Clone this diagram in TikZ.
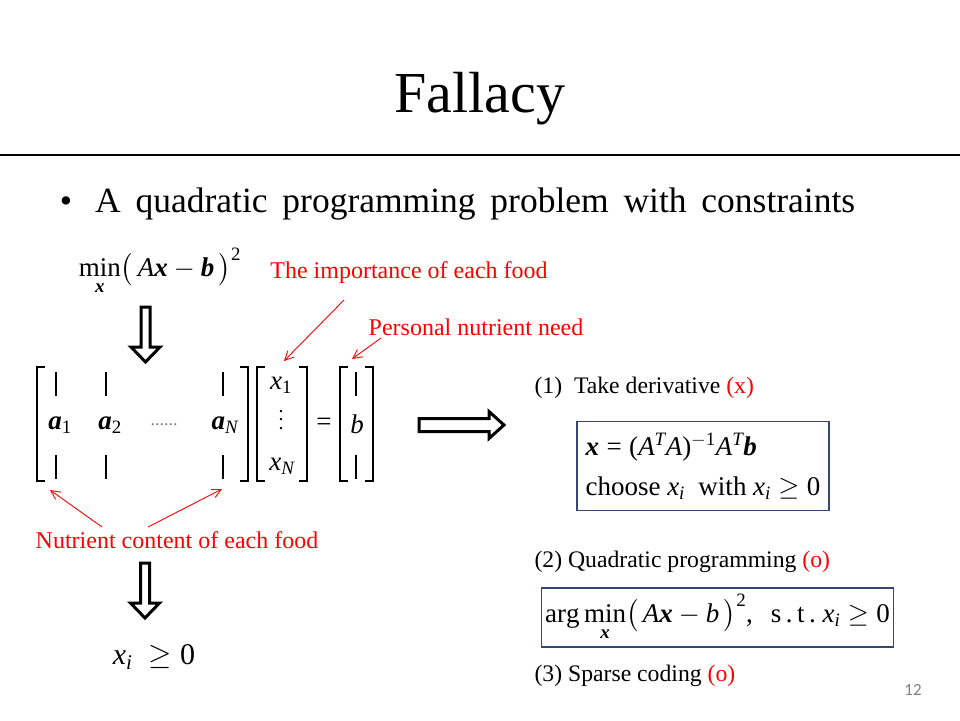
\RequirePackage{fix-cm}
\documentclass[tikz,border=0pt]{standalone}
\usepackage{amsmath}
\usepackage{amssymb}
\usepackage[no-math]{fontspec}
\setmainfont{Liberation Serif}
\newfontfamily\numfont{Carlito}
% Times-like letters and digits in formulas
\DeclareSymbolFont{letters}{TU}{\rmdefault}{m}{it}
\SetSymbolFont{letters}{bold}{TU}{\rmdefault}{b}{it}
\DeclareSymbolFont{operators}{TU}{\rmdefault}{m}{n}
\SetSymbolFont{operators}{bold}{TU}{\rmdefault}{b}{n}
\mathcode`\,="602C
\mathcode`\.="002E
\newcommand{\tallvdots}{\vbox{\baselineskip=8.5pt\lineskiplimit=0pt\hbox{.}\hbox{.}\hbox{.}}}
\usetikzlibrary{arrows.meta}

\tikzset{
	fatdown/.pic={\draw[fat] (-4.5,0) -- (4.5,0) -- (4.5,40) -- (14.5,40) -- (0,55) -- (-14.5,40) -- (-4.5,40) -- cycle;},
	fatright/.pic={\draw[fat] (0,-6.5) -- (70,-6.5) -- (70,-13.5) -- (85,0) -- (70,13.5) -- (70,6.5) -- (0,6.5) -- cycle;},
	lbr/.pic={\draw[brk] (8,0) -- (0,0) -- (0,114) -- (8,114);},
	rbr/.pic={\draw[brk] (-8,0) -- (0,0) -- (0,114) -- (-8,114);},
}

\begin{document}
\begin{tikzpicture}[x=1pt, y=-1pt,
		fat/.style={line width=3pt, miter limit=10, fill=white},
		brk/.style={line width=1.2pt},
		bar/.style={line width=1.2pt},
		note/.style={text=red, font=\fontsize{24}{28}\selectfont},
		item/.style={anchor=west, font=\fontsize{23.7}{28}\selectfont},
		eq/.style={font=\fontsize{27}{32}\selectfont},
		frame/.style={draw={rgb,255:red,52;green,72;blue,112}, line width=1.3pt, align=left},
		point/.style={-{Straight Barb[length=9pt,width=9pt]}, red, line width=0.9pt}]
	\useasboundingbox (0,0) rectangle (960,720);
	% title
	\node[anchor=base, font=\fontsize{58}{60}\selectfont] (title) at (480,112) {Fallacy};
	\draw[line width=2.6pt] (0,155) -- (960,155);
	\node[anchor=base, font=\fontsize{35}{40}\selectfont] (dot) at (66,212) {\textbullet};
	\node[anchor=base west, font=\fontsize{35.5}{40}\selectfont, inner sep=0pt] (head) at (95,212)
		{\makebox[760pt][s]{A quadratic programming problem with constraints}};
	% objective
	\node[eq] (obj) at (160,272) {$\min\limits_{\boldsymbol{x}}\bigl(\,A\boldsymbol{x}-\boldsymbol{b}\,\bigr)^{2}$};
	\pic at (145.5,307) {fatdown};
	% matrix A
	\pic at (37,367) {lbr};
	\pic at (248,367) {rbr};
	\foreach \c in {56,106,223}{
		\draw[bar] (\c,372) -- (\c,396);
		\draw[bar] (\c,455) -- (\c,479);
	}
	\node[eq] (a1) at (60,425) {$\boldsymbol{a}_{1}$};
	\node[eq] (a2) at (110,425) {$\boldsymbol{a}_{2}$};
	\node[text=gray, font=\fontsize{18}{20}\selectfont] (dd) at (164,425) {......};
	\node[eq] (aN) at (225,425) {$\boldsymbol{a}_{N}$};
	% vector x
	\pic at (257,367) {lbr};
	\pic at (307,367) {rbr};
	\node[eq, inner sep=1pt] (x1) at (281,385) {$x_{1}$};
	\node[font=\fontsize{20}{22}\selectfont, inner sep=0pt] (xd) at (281,420) {\tallvdots};
	\node[eq, inner sep=1pt] (xN) at (282,466) {$x_{N}$};
	\node[eq] (eqs) at (324,424) {$=$};
	% vector b
	\pic at (340,367) {lbr};
	\pic at (373,367) {rbr};
	\draw[bar] (356,372) -- (356,396);
	\draw[bar] (356,455) -- (356,479);
	\node[eq] (b) at (357,424) {$b$};
	% labels
	\node[note] (imp) at (409,273) {The importance of each food};
	\node[note] (need) at (476,327) {Personal nutrient need};
	\node[note] (cont) at (177,540) {Nutrient content of each food};
	\coordinate (impA) at (344,300);
	\coordinate (impB) at (284,361);
	\coordinate (needA) at (381,338);
	\coordinate (needB) at (352,359);
	\coordinate (contA) at (102,527);
	\coordinate (contB) at (50,490);
	\coordinate (contC) at (148,527);
	\coordinate (contD) at (222,489);
	\draw[point] (impA) -- (impB);
	\draw[point] (needA) -- (needB);
	\draw[point] (contA) -- (contB);
	\draw[point] (contC) -- (contD);
	% constraint
	\pic at (145,563) {fatdown};
	\node[font=\fontsize{30}{34}\selectfont] (pos) at (154,657) {$x_{i}\ \geq 0$};
	\pic at (419,425) {fatright};
	% methods
	\node[item] (m1) at (531,388) {(1)\ \ Take derivative \textcolor{red}{(x)}};
	\node[frame, eq, minimum width=252pt, minimum height=89pt] (box1) at (703,466)
		{$\boldsymbol{x}=(A^{T}A)^{-1}A^{T}\boldsymbol{b}$\\[8pt]choose $x_{i}$\ \ with $x_{i}\geq 0$};
	\node[item] (m2) at (531,562) {(2) Quadratic programming \textcolor{red}{(o)}};
	\node[frame, eq, minimum width=339pt, minimum height=59pt] (box2) at (717.5,617.5)
		{$\arg\min\limits_{\boldsymbol{x}}\bigl(\,A\boldsymbol{x}-b\,\bigr)^{2},\ \ \mathrm{s\,.\,t\,.}\ x_{i}\geq 0$};
	\node[item] (m3) at (531,676) {(3) Sparse coding \textcolor{red}{(o)}};
	\node[text=gray, font=\numfont\fontsize{17}{20}\selectfont] (pg) at (913,690) {12};
\end{tikzpicture}
\end{document}
